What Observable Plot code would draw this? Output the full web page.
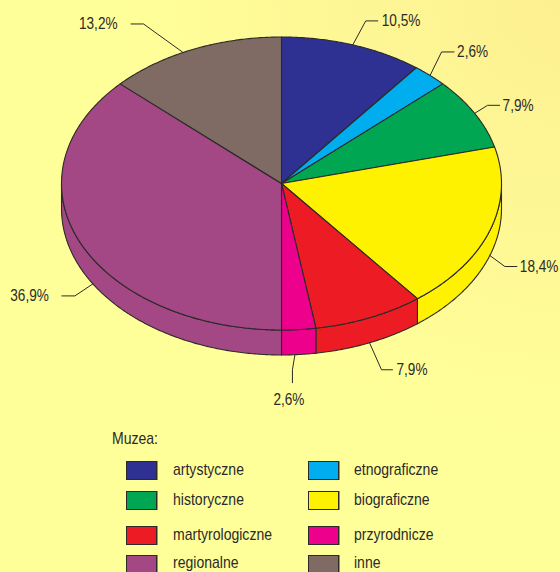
<!DOCTYPE html>
<html><head><meta charset="utf-8">
<script src="https://cdn.jsdelivr.net/npm/d3@7"></script>
<script src="https://cdn.jsdelivr.net/npm/@observablehq/plot@0.6"></script>
<style>
html,body{margin:0;padding:0}
#root{position:relative;width:560px;height:572px;overflow:hidden;
 background:radial-gradient(ellipse 430px 430px at 100% 0%,#fdf091 0%,#fef795 50%,#ffff99 100%);
 font-family:"Liberation Sans",Arial,sans-serif;color:#2b2a29;}
#root svg{display:block;background:transparent}
#legend{position:relative;height:152px;font-size:17px;line-height:19px}
#legend .ttl{position:absolute;left:112px;top:9px;transform:scaleX(.825);transform-origin:0 50%}
#legend .sw{position:absolute;width:29px;height:17px;border:1px solid #2b2a29;box-shadow:1px 0 0 #9a9566}
#legend .tx{position:absolute;white-space:nowrap;transform:scaleX(.825);transform-origin:0 50%}
</style></head><body><div id="root"></div>
<script>
// Slice names, clockwise from 12 o'clock
const categories = ["artystyczne","etnograficzne","historyczne","biograficzne","martyrologiczne","przyrodnicze","regionalne","inne"];
// Printed percentages
const labels = ["10,5%","2,6%","7,9%","18,4%","7,9%","2,6%","36,9%","13,2%"];
// Drawn wedge shares (differs slightly from the printed figure in three slices)
const shares = [10.5,2.6,7.9,18.4,8.1,2.5,36.9,13.1];
const colors = ["#2e3192","#00aeef","#00a651","#fff200","#ed1c24","#ec008c","#a44785","#7f6a64"];
const legendOrder = ["artystyczne","etnograficzne","historyczne","biograficzne","martyrologiczne","przyrodnicze","regionalne","inne"];

// Layout
const W=560,H=420,CX=281,CY=183,RX=220,RY=146.5,DEPTH=25;
const INK="#2b2a29";
const LABEL_STRETCH=0.80;
// Where each leader leaves the rim, relative to the slice's mid-angle (degrees)
const anchorShift=[0,0,0,0,0,1,-7.4,-3];
// Leader elbows: [elbow dx, elbow dy, tail dx, tail dy] from the rim anchor, then label offset from the tail
const leaders = [[13,-24,12,0],[11.5,-23.5,12.5,0],[13,-8,12,0],[15,11,12,0],[12,27,11,0],[-2.5,15,0,13],[-18,12,-13,0],[-39.5,-28.5,-12.5,0]];
const labelOffsets = [[4,0],[3,0],[3,0],[3,0],[4,0],[-3.5,17],[-13,0],[-13.5,0]];
const anchors = ["start","start","start","start","start","middle","end","end"];

const rad = d=>d*Math.PI/180;
const rim = (deg,drop=0)=>({x:RX*Math.sin(rad(deg)),y:-RY*Math.cos(rad(deg))+drop});
let acc=0;
const slices = categories.map((c,i)=>{const a0=acc*3.6;acc+=shares[i];return {c,i,a0,a1:acc*3.6};});
const arc=(a,b,drop=0)=>{const n=Math.max(2,Math.ceil(Math.abs(b-a)/0.5));return d3.range(n+1).map(k=>rim(a+(b-a)*k/n,drop));};

const tops=[],sides=[],leaderRows=[],textRows=[];
for(const s of slices){
  const pts=[{x:0,y:0},...arc(s.a0,s.a1),{x:0,y:0}];
  pts.forEach(p=>tops.push({...p,c:s.c}));
  const lo=Math.max(s.a0,90),hi=Math.min(s.a1,270);
  if(hi>lo){
    const top=arc(lo,hi),bot=arc(hi,lo,DEPTH);
    [...top,...bot,top[0]].forEach(p=>sides.push({...p,c:s.c}));
  }
  const mid=(s.a0+s.a1)/2+anchorShift[s.i];
  const onFront=mid>90&&mid<270;
  const A=rim(mid,onFront?DEPTH:0);
  const [ex,ey,tx,ty]=leaders[s.i];
  const E={x:A.x+ex,y:A.y+ey},T={x:E.x+tx,y:E.y+ty};
  [A,E,T].forEach(p=>leaderRows.push({...p,c:s.c}));
  textRows.push({x:T.x+labelOffsets[s.i][0],y:T.y+labelOffsets[s.i][1],t:labels[s.i],anchor:anchors[s.i]});
}

const plot=Plot.plot({
  width:W,height:H,margin:0,
  x:{domain:[-CX,W-CX],range:[0,W],axis:null},
  y:{domain:[-CY,H-CY],range:[0,H],axis:null},
  color:{domain:categories,range:colors},
  style:{background:"transparent",overflow:"visible"},
  marks:[
    Plot.line(sides,{x:"x",y:"y",z:"c",fill:"c",stroke:INK,strokeWidth:1.1}),
    Plot.line(tops,{x:"x",y:"y",z:"c",fill:"c",stroke:INK,strokeWidth:1.1}),
    Plot.line(leaderRows,{x:"x",y:"y",z:"c",stroke:INK,strokeWidth:1}),
    ...["start","middle","end"].map(a=>Plot.text(textRows.filter(d=>d.anchor===a),{x:"x",y:"y",text:"t",textAnchor:a,lineAnchor:"middle",fill:INK,fontSize:17,fontFamily:'"Liberation Sans",Arial,sans-serif'}))
  ]
});
const root=document.getElementById("root");
root.appendChild(plot);
// Condense the chart labels (no narrow face is installed); they stay real text
plot.querySelectorAll("text").forEach(t=>{
  t.setAttribute("lengthAdjust","spacingAndGlyphs");
  t.setAttribute("textLength",(t.getComputedTextLength()*LABEL_STRETCH).toFixed(1));
});

// Legend below the chart
const legend=document.createElement("div");legend.id="legend";
const ttl=document.createElement("div");ttl.className="ttl";ttl.textContent="Muzea:";legend.appendChild(ttl);
const swatchTops=[41,71,106,135],textTops=[40,69.5,105,132.5],swLeft=[126,308],txLeft=[173,354];
legendOrder.forEach((c,i)=>{
  const r=Math.floor(i/2),k=i%2;
  const sw=document.createElement("div");sw.className="sw";
  sw.style.left=swLeft[k]+"px";sw.style.top=swatchTops[r]+"px";
  sw.style.background=colors[categories.indexOf(c)];legend.appendChild(sw);
  const t=document.createElement("div");t.className="tx";t.textContent=c;
  t.style.left=txLeft[k]+"px";t.style.top=textTops[r]+"px";legend.appendChild(t);
});
root.appendChild(legend);
</script></body></html>
